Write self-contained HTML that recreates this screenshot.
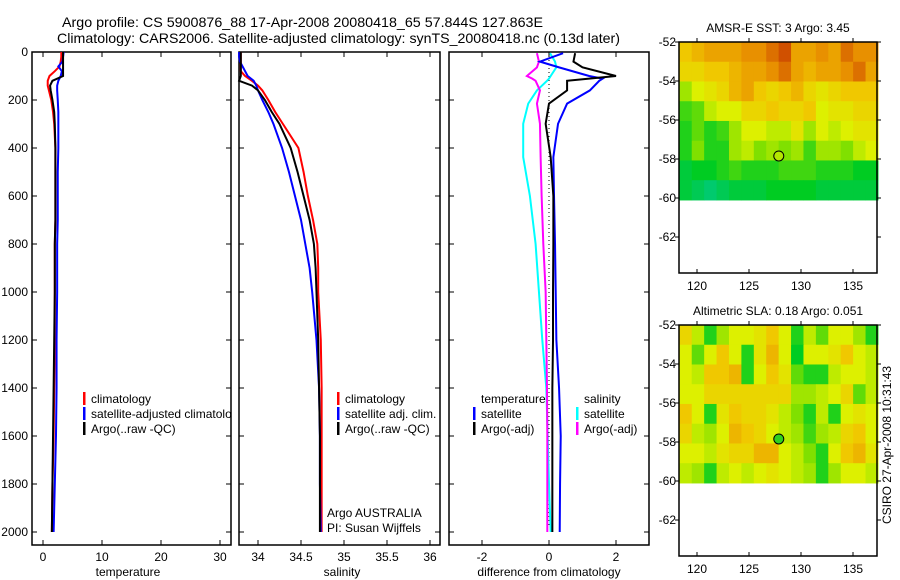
<!DOCTYPE html>
<html><head><meta charset="utf-8">
<style>
html,body{margin:0;padding:0;background:#fff;}
svg{display:block;font-family:"Liberation Sans",sans-serif;}
text{fill:#000;}
</style></head>
<body>
<svg id="chart" width="900" height="580" viewBox="0 0 900 580" xmlns="http://www.w3.org/2000/svg">
<text x="62" y="27" font-size="14" textLength="481" lengthAdjust="spacingAndGlyphs">Argo profile: CS 5900876_88 17-Apr-2008 20080418_65 57.844S 127.863E</text>
<text x="57" y="43" font-size="14" textLength="563" lengthAdjust="spacingAndGlyphs">Climatology: CARS2006. Satellite-adjusted climatology: synTS_20080418.nc (0.13d later)</text>
<g id="root"></g>
</svg>
<script>
// ---------- data ----------
const depthLevels=[0,20,40,60,80,100,120,140,160,200,250,300,400,500,600,700,800,900,1000,1200,1400,1600,1800,2000];
const tempClim=[3.1,3.1,3.0,2.8,2.0,1.1,0.8,0.8,1.0,1.4,1.7,1.9,2.1,2.1,2.1,2.1,2.0,2.0,2.0,2.0,1.9,1.8,1.6,1.5];
const tempSat=[3.5,3.4,3.3,2.6,3.2,3.0,2.6,2.4,2.4,2.5,2.6,2.6,2.6,2.5,2.5,2.5,2.4,2.4,2.4,2.3,2.3,2.2,2.0,1.8];
const tempArgo=[3.4,3.4,3.4,3.4,3.4,3.4,1.6,1.2,1.3,1.6,1.9,2.0,2.1,2.1,2.1,2.1,2.0,2.0,2.0,1.9,1.8,1.7,1.6,1.5];
const salClim=[33.8,33.8,33.8,33.8,33.8,33.85,33.93,34.0,34.05,34.12,34.2,34.29,34.47,34.53,34.58,34.64,34.69,34.7,34.7,34.73,34.74,34.74,34.74,34.74];
const salSat=[33.78,33.78,33.79,33.82,33.85,33.88,33.95,33.98,34.0,34.05,34.12,34.18,34.28,34.36,34.43,34.5,34.55,34.6,34.63,34.68,34.71,34.72,34.72,34.73];
const salArgo=[33.8,33.8,33.8,33.8,33.8,33.8,33.78,33.93,34.0,34.08,34.16,34.25,34.38,34.46,34.53,34.6,34.65,34.67,34.68,34.7,34.71,34.72,34.72,34.72];
const diffDepths=[5,40,64,100,111,120,160,215,299,438,600,800,1000,1200,1400,1600,1800,2000];
const diffTempSat=[0.42,-0.27,0.3,1.2,1.6,1.5,1.22,0.54,0.27,0.13,0.15,0.18,0.2,0.22,0.3,0.35,0.33,0.32];
const diffTempArgo=[0.78,0.73,1.0,2.0,1.2,0.54,0.54,0.0,-0.1,0.05,0.13,0.13,0.12,0.12,0.1,0.1,0.1,0.1];
const diffSalSat=[0.03,0.18,0.22,0.05,0.0,-0.06,-0.36,-0.62,-0.77,-0.77,-0.57,-0.4,-0.3,-0.2,-0.08,-0.04,0.0,0.05];
const diffSalArgo=[-0.36,-0.3,-0.36,-0.66,-0.5,-0.4,-0.27,-0.36,-0.27,-0.25,-0.22,-0.17,-0.1,-0.08,-0.06,-0.05,-0.05,-0.05];
const depthTicks=[0,200,400,600,800,1000,1200,1400,1600,1800,2000];
const tempTicks=[0,10,20,30];
const salTicks=[34,34.5,35,35.5,36];
const diffTicks=[-2,0,2];
const lonTicks=[120,125,130,135];
const latTicks=[52,54,56,58,60,62];
const argoLon=127.863, argoLat=57.844;
const sstGrid=[
[0.75,0.8,0.85,0.85,0.85,0.9,0.9,0.95,1.0,0.85,0.85,0.9,0.85,0.95,0.9,0.9],
[0.7,0.7,0.75,0.75,0.8,0.85,0.85,0.9,0.95,0.85,0.8,0.85,0.85,0.9,0.95,0.85],
[0.5,0.6,0.65,0.7,0.8,0.85,0.75,0.7,0.75,0.8,0.7,0.65,0.7,0.75,0.75,0.75],
[0.35,0.4,0.55,0.6,0.6,0.7,0.7,0.75,0.7,0.7,0.75,0.6,0.65,0.65,0.7,0.7],
[0.3,0.4,0.3,0.35,0.5,0.6,0.6,0.55,0.55,0.65,0.5,0.6,0.55,0.6,0.65,0.65],
[0.3,0.45,0.3,0.3,0.5,0.55,0.45,0.5,0.45,0.5,0.35,0.5,0.5,0.45,0.55,0.6],
[0.2,0.25,0.25,0.3,0.35,0.3,0.3,0.3,0.35,0.35,0.35,0.3,0.3,0.3,0.25,0.25],
[0.2,0.15,0.1,0.15,0.2,0.2,0.2,0.25,0.25,0.25,0.25,0.2,0.2,0.2,0.2,0.2]];
const slaGrid=[
[0.7,0.55,0.3,0.5,0.6,0.6,0.65,0.75,0.6,0.3,0.55,0.4,0.6,0.6,0.5,0.3],
[0.6,0.4,0.6,0.75,0.6,0.3,0.65,0.8,0.6,0.25,0.6,0.6,0.65,0.75,0.6,0.55],
[0.6,0.55,0.75,0.75,0.8,0.3,0.6,0.75,0.65,0.4,0.3,0.3,0.55,0.6,0.6,0.55],
[0.6,0.6,0.7,0.7,0.7,0.7,0.7,0.7,0.7,0.5,0.5,0.55,0.6,0.7,0.4,0.55],
[0.75,0.6,0.3,0.65,0.75,0.7,0.7,0.65,0.55,0.45,0.3,0.55,0.3,0.6,0.65,0.6],
[0.7,0.55,0.5,0.6,0.8,0.75,0.7,0.6,0.55,0.5,0.35,0.5,0.55,0.7,0.75,0.6],
[0.6,0.6,0.55,0.65,0.7,0.7,0.8,0.8,0.6,0.55,0.45,0.3,0.6,0.75,0.8,0.65],
[0.55,0.5,0.3,0.55,0.6,0.55,0.6,0.65,0.6,0.55,0.5,0.3,0.5,0.6,0.6,0.55]];

// ---------- helpers ----------
const NS="http://www.w3.org/2000/svg";
const root=document.getElementById('root');
function mk(tag,attrs,parent){const e=document.createElementNS(NS,tag);for(const k in attrs)e.setAttribute(k,attrs[k]);(parent||root).appendChild(e);return e;}
function txt(s,x,y,opts,parent){const t=mk('text',Object.assign({x:x,y:y,'font-size':12},opts||{}),parent);t.textContent=s;return t;}
const yDepth=d=>52+d*0.24;
const PTOP=52,PBOT=545;

function panel(name,x0,x1,xs,ticks,fmt,xlabel,labelX,showY){
  const g=mk('g',{});
  
  
  const r=mk('rect',{x:x0,y:PTOP,width:x1-x0,height:PBOT-PTOP,fill:'#fff',stroke:'#000','stroke-width':1.5},g);
  
  
  ticks.forEach(v=>{const x=xs(v);
    mk('line',{x1:x,x2:x,y1:PBOT,y2:PBOT-5,stroke:'#000'},g);
    mk('line',{x1:x,x2:x,y1:PTOP,y2:PTOP+5,stroke:'#000'},g);
    const t=txt(fmt(v),x,561,{'text-anchor':'middle'},g);
    
    
  });
  depthTicks.forEach(d=>{const y=yDepth(d);
    mk('line',{x1:x0,x2:x0+5,y1:y,y2:y,stroke:'#000'},g);
    mk('line',{x1:x1,x2:x1-5,y1:y,y2:y,stroke:'#000'},g);
    if(showY){const t=txt(String(d),28,y+4,{'text-anchor':'end'},g);
      
      }
  });
  const xl=txt(xlabel,labelX,576,{'text-anchor':'middle'},g);
  
  
  return g;
}
function stepPath(vals,deps,xs,color,name,g){
  let d='';
  vals.forEach((v,i)=>{const x=xs(v),y=yDepth(deps[i]);
    if(i===0)d='M'+x+' '+y;else{d+=' L'+x+' '+y;}
  });
  const p=mk('path',{d:d,fill:'none',stroke:color,'stroke-width':2},g);
  
  
}
function legend(items,x,y,g){
  items.forEach((it,i)=>{const yy=y+i*15;
    if(it[1]){const b=mk('rect',{x:x,y:yy-11,width:2.5,height:13,fill:it[1]},g);
      
      }
    const t=txt(it[0],x+8,yy,{},g);
    
    
  });
}

// ---------- temperature panel ----------
const xsT=v=>43+v*5.9;
const gT=panel('temperature-panel',32,231,xsT,tempTicks,String,'temperature',128,true);
stepPath(tempClim,depthLevels,xsT,'#f00','temp-climatology-line',gT);
stepPath(tempSat,depthLevels,xsT,'#00f','temp-satellite-line',gT);
stepPath(tempArgo,depthLevels,xsT,'#000','temp-argo-line',gT);
legend([['climatology','#f00'],['satellite-adjusted climatology','#00f'],['Argo(..raw -QC)','#000']],83,403,gT);
mk('rect',{x:232,y:380,width:6,height:60,fill:'#fff'});

// ---------- salinity panel ----------
const xsS=v=>258+(v-34)*86;
const gS=panel('salinity-panel',239,440,xsS,salTicks,String,'salinity',342,false);
stepPath(salClim,depthLevels,xsS,'#f00','sal-climatology-line',gS);
stepPath(salSat,depthLevels,xsS,'#00f','sal-satellite-line',gS);
stepPath(salArgo,depthLevels,xsS,'#000','sal-argo-line',gS);
legend([['climatology','#f00'],['satellite adj. clim.','#00f'],['Argo(..raw -QC)','#000']],337,403,gS);
const a1=txt('Argo AUSTRALIA',327,517,{},gS);
const a2=txt('PI: Susan Wijffels',327,532,{},gS);

// ---------- difference panel ----------
const xsD=v=>549+v*33.5;
const gD=panel('difference-panel',449,649,xsD,diffTicks,String,'difference from climatology',549,false);
const zl=mk('line',{x1:xsD(0),x2:xsD(0),y1:PTOP,y2:PBOT-18,stroke:'#000','stroke-dasharray':'1,3'},gD);

stepPath(diffSalSat,diffDepths,xsD,'#0ff','diff-sal-satellite-line',gD);
stepPath(diffSalArgo,diffDepths,xsD,'#f0f','diff-sal-argo-line',gD);
stepPath(diffTempSat,diffDepths,xsD,'#00f','diff-temp-satellite-line',gD);
stepPath(diffTempArgo,diffDepths,xsD,'#000','diff-temp-argo-line',gD);
legend([['temperature',null],['satellite','#00f'],['Argo(-adj)','#000']],473,403,gD);
legend([['salinity',null],['satellite','#0ff'],['Argo(-adj)','#f0f']],576,403,gD);

// ---------- maps ----------
function color(v){
  const stops=[[0,[0,200,160]],[0.25,[0,204,34]],[0.45,[128,224,0]],[0.6,[221,240,0]],[0.75,[240,200,0]],[0.9,[232,144,0]],[1,[208,80,0]]];
  for(let i=1;i<stops.length;i++){if(v<=stops[i][0]){const a=stops[i-1],b=stops[i],t=(v-a[0])/(b[0]-a[0]);
    return 'rgb('+a[1].map((c,k)=>Math.round(c+(b[1][k]-c)*t)).join(',')+')';}}
  return 'rgb(208,80,0)';
}
function map(name,title,top,grid,dotColor){
  const g=mk('g',{});
  
  
  const x0=679,x1=877,bot=top+231;
  const xs=lon=>697+(lon-120)*10.4, ys=lat=>top+(lat-52)*19.5;
  const lonMin=118.3,lonMax=137.4,latMax=60.1;
  const nc=grid[0].length,nr=grid.length;
  const cw=(lonMax-lonMin)/nc, rh=(latMax-52)/nr;
  grid.forEach((row,ri)=>row.forEach((v,ci)=>{
    const xa=xs(lonMin+ci*cw),xb=xs(lonMin+(ci+1)*cw),ya=ys(52+ri*rh),yb=ys(52+(ri+1)*rh);
    const c=mk('rect',{x:xa,y:ya,width:xb-xa+0.5,height:yb-ya+0.5,fill:color(v)},g);
    
    
  }));
  const f=mk('rect',{x:x0,y:top,width:x1-x0,height:bot-top,fill:'none',stroke:'#000','stroke-width':1.5},g);
  
  lonTicks.forEach(l=>{const x=xs(l);
    mk('line',{x1:x,x2:x,y1:bot,y2:bot-4,stroke:'#000'},g);
    mk('line',{x1:x,x2:x,y1:top,y2:top-4,stroke:'#000'},g);
    const t=txt(String(l),x,bot+17,{'text-anchor':'middle'},g);
    });
  latTicks.forEach(l=>{const y=ys(l);
    mk('line',{x1:x0,x2:x0-4,y1:y,y2:y,stroke:'#000'},g);
    mk('line',{x1:x1,x2:x1+4,y1:y,y2:y,stroke:'#000'},g);
    const t=txt('-'+l,676,y+4,{'text-anchor':'end'},g);
    });
  const tt=txt(title,778,top-10,{'text-anchor':'middle'},g);
  
  const d=mk('circle',{cx:xs(argoLon),cy:ys(argoLat),r:5,fill:dotColor,stroke:'#000','stroke-width':1},g);
  
}
map('sst-map','AMSR-E SST: 3 Argo: 3.45',42,sstGrid,'#b4e600');
map('sla-map','Altimetric SLA: 0.18 Argo: 0.051',325,slaGrid,'#30d020');
const stamp=txt('CSIRO 27-Apr-2008 10:31:43',0,0,{'text-anchor':'middle',transform:'translate(891,445) rotate(-90)'});


</script>
</body></html>
